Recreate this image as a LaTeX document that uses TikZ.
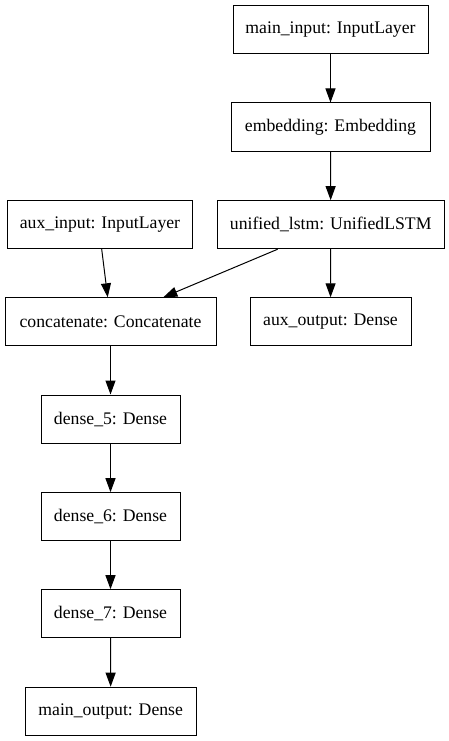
\documentclass[tikz,border=0pt]{standalone}
\usepackage{fontspec}
\setmainfont{Liberation Serif}
\usetikzlibrary{arrows.meta}
\begin{document}
\begin{tikzpicture}[x=1pt,y=-1pt,
  layer/.style={draw, line width=1pt, rectangle, inner sep=0pt, font=\fontsize{17.7}{20}\selectfont},
  edge/.style={line width=1pt, -{Triangle[length=14pt,width=10pt]}}]
\useasboundingbox (0,0) rectangle (449,741);
\node[layer, minimum width=195pt, minimum height=48pt] (mi) at (330.5,30) {main\_input: InputLayer};
\node[layer, minimum width=199pt, minimum height=48pt] (emb) at (330.5,127) {embedding: Embedding};
\node[layer, minimum width=185pt, minimum height=48pt] (ai) at (100,224.7) {aux\_input: InputLayer};
\node[layer, minimum width=227pt, minimum height=48pt] (ul) at (330.7,224.7) {unified\_lstm: UnifiedLSTM};
\node[layer, minimum width=211pt, minimum height=48pt] (cc) at (110.5,321.8) {concatenate: Concatenate};
\node[layer, minimum width=161pt, minimum height=48pt] (ao) at (330.5,321.8) {aux\_output: Dense};
\node[layer, minimum width=139pt, minimum height=48pt] (d5) at (110.5,419) {dense\_5: Dense};
\node[layer, minimum width=139pt, minimum height=48pt] (d6) at (110.5,516.7) {dense\_6: Dense};
\node[layer, minimum width=139pt, minimum height=48pt] (d7) at (110.5,613.7) {dense\_7: Dense};
\node[layer, minimum width=171pt, minimum height=48pt] (mo) at (110.7,711.2) {main\_output: Dense};
\draw[edge] (mi) -- (emb);
\draw[edge] (emb) -- (ul);
\draw[edge] ([xshift=1.7pt]ai.south) -- ([xshift=-2.8pt]cc.north);
\draw[edge] ([xshift=-53pt]ul.south) -- ([xshift=52.8pt]cc.north);
\draw[edge] (ul) -- (ao);
\draw[edge] (cc) -- (d5);
\draw[edge] (d5) -- (d6);
\draw[edge] (d6) -- (d7);
\draw[edge] (d7) -- (mo);
\end{tikzpicture}
\end{document}
